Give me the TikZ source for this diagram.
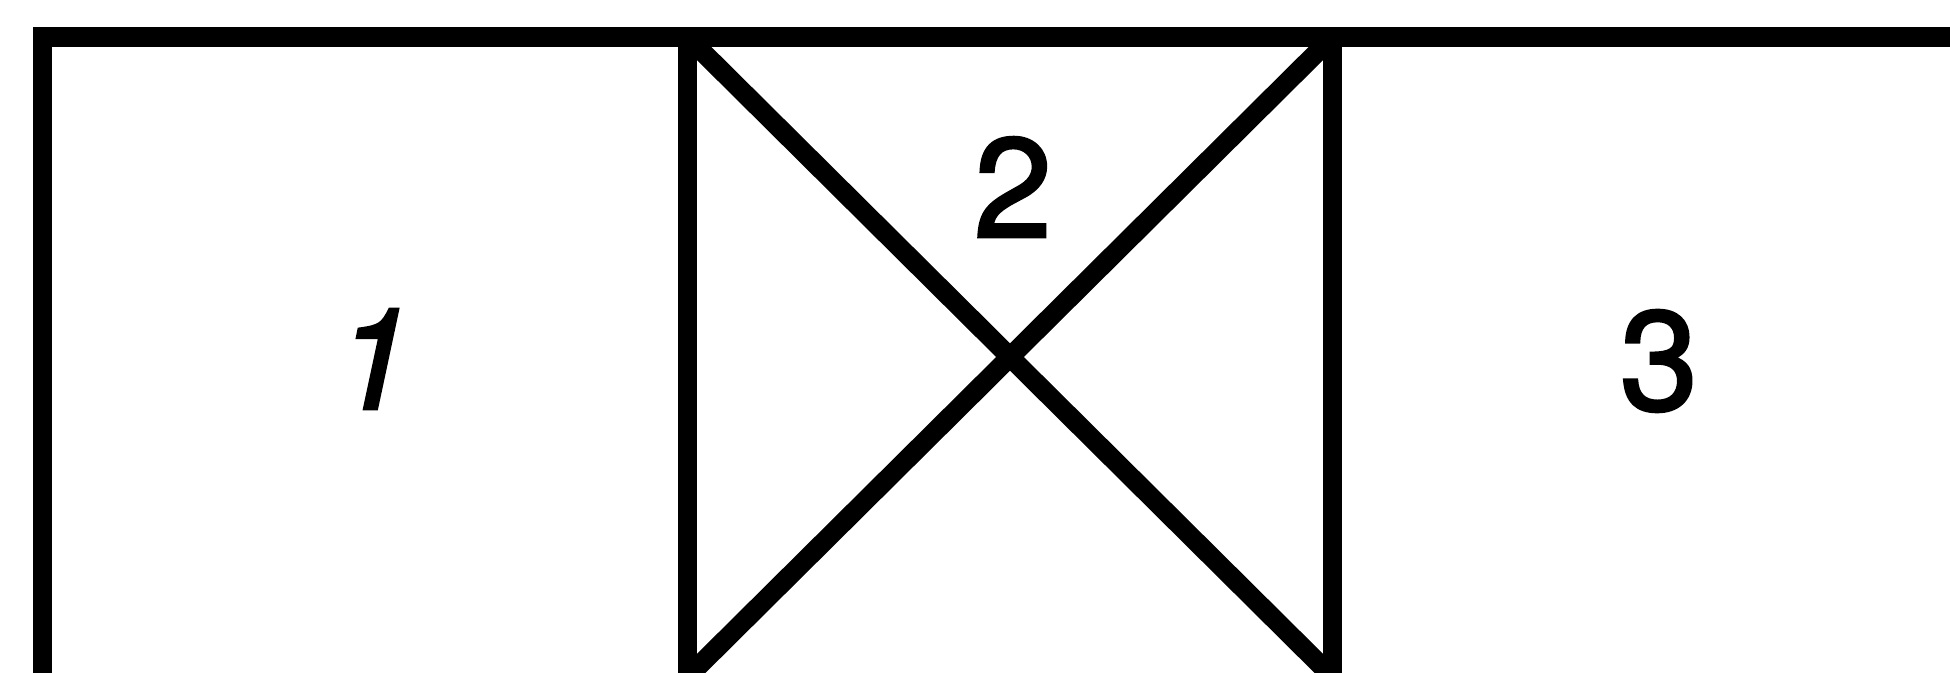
\documentclass[tikz,border=0pt]{standalone}
\usepackage{fontspec}
\setmainfont{TeX Gyre Heros}
\newfontfamily\numfont{TeX Gyre Heros}[FakeBold=2]
\begin{document}
\begin{tikzpicture}[x=0.01cm,y=-0.01cm,
  wall/.style={line width=0.195cm,line join=miter,black},
  numlabel/.style={font=\numfont\fontsize{40}{48}\selectfont,inner sep=0pt,anchor=center}]
\useasboundingbox (0,0) rectangle (1950,673);
\begin{scope}
\clip (0,0) rectangle (1950,673);
\draw[wall] (42.5,690) -- (42.5,37) -- (1970,37);
\draw[wall] (687.5,690) -- (687.5,37);
\draw[wall] (1332.5,690) -- (1332.5,37);
\draw[wall] (687.5,37) -- (1332.5,677);
\draw[wall] (1332.5,37) -- (687.5,677);
\end{scope}
\node[numlabel] (n1) at (374,359) {\itshape 1};
\node[numlabel] (n2) at (1013,187) {2};
\node[numlabel] (n3) at (1659,361) {3};
\end{tikzpicture}
\end{document}
